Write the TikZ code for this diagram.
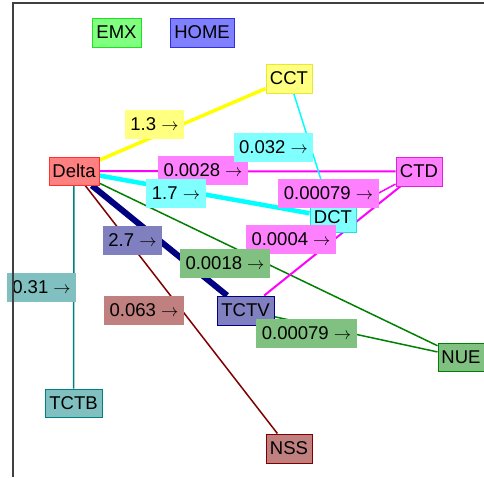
\documentclass[tikz,border=0pt]{standalone}
\usepackage{fontspec}
\setmainfont{Liberation Sans}
\usetikzlibrary{backgrounds}
\definecolor{fR}{HTML}{FF8080}\definecolor{bR}{HTML}{FF3030}
\definecolor{fY}{HTML}{FFFF80}\definecolor{bY}{HTML}{E8E830}
\definecolor{fM}{HTML}{FF80FF}\definecolor{bM}{HTML}{E020E0}
\definecolor{fC}{HTML}{80FFFF}\definecolor{bC}{HTML}{20E0E0}
\definecolor{fEM}{HTML}{80FF80}\definecolor{bEM}{HTML}{20E020}
\definecolor{fHO}{HTML}{8080FF}\definecolor{bHO}{HTML}{3030E0}
\definecolor{fN}{HTML}{8080C0}\definecolor{bN}{HTML}{000080}
\definecolor{fG}{HTML}{80C080}\definecolor{bG}{HTML}{008000}
\definecolor{fT}{HTML}{80C0C0}\definecolor{bT}{HTML}{008080}
\definecolor{fS}{HTML}{C08080}\definecolor{bS}{HTML}{800000}
\definecolor{eY}{HTML}{FFFF00}\definecolor{eM}{HTML}{FF00FF}
\definecolor{eC}{HTML}{00FFFF}\definecolor{frame}{HTML}{404040}
\begin{document}
\begin{tikzpicture}[x=1pt,y=-1pt,
  font=\fontsize{18.5}{21}\selectfont,
  nd/.style={draw, line width=1pt, inner sep=0pt, minimum height=29pt},
  lb/.style={inner sep=0pt, minimum height=29pt},
  ed/.style={line width=1.5pt}]
\useasboundingbox (0,0) rectangle (484,477);
% nodes
\node[nd, fill=fEM, draw=bEM, minimum width=49pt] (EMX) at (116.5,32.5) {EMX};
\node[nd, fill=fHO, draw=bHO, minimum width=64pt] (HOME) at (202,32.5) {HOME};
\node[nd, fill=fY, draw=bY, minimum width=46pt] (CCT) at (289,78.5) {CCT};
\node[nd, fill=fM, draw=bM, minimum width=46pt] (CTD) at (419,171.5) {CTD};
\node[nd, fill=fC, draw=bC, minimum width=46pt] (DCT) at (333,217.5) {DCT};
\node[nd, fill=fR, draw=bR, minimum width=50pt, minimum height=28pt] (Delta) at (74,171) {Delta};
\node[nd, fill=fN, draw=bN, minimum width=57pt] (TCTV) at (245.5,310.5) {TCTV};
\node[nd, fill=fG, draw=bG, minimum width=46pt, minimum height=28pt] (NUE) at (461,357) {NUE};
\node[nd, fill=fT, draw=bT, minimum width=57pt, minimum height=28pt] (TCTB) at (73.5,403) {TCTB};
\node[nd, fill=fS, draw=bS, minimum width=46pt] (NSS) at (289,448.5) {NSS};
% edges
\begin{scope}[on background layer]
\draw[ed, eY, line width=3.5pt] (Delta) -- (CCT);
\draw[ed, eM, line width=2pt] (Delta) -- (CTD);
\draw[ed, eC, line width=4.5pt] (Delta) -- (DCT);
\draw[ed, bN, line width=6pt] (Delta) -- (TCTV);
\draw[ed, bG] (Delta) -- (NUE);
\draw[ed, bS] (Delta) -- (NSS);
\draw[ed, bT] (Delta) -- (TCTB);
\draw[ed, eC] (CCT) -- (DCT);
\draw[ed, eM] (CTD) -- (DCT);
\draw[ed, eM, line width=2pt] (CTD) -- (TCTV);
\draw[ed, bG] (TCTV) -- (NUE);
\end{scope}
% edge labels
\node[lb, fill=fY, minimum width=59pt] (l1) at (154.5,124.5) {1.3 $\rightarrow$};
\node[lb, fill=fM, minimum width=90pt] (l2) at (203,170.5) {0.0028 $\rightarrow$};
\node[lb, fill=fC, minimum width=79pt] (l4) at (273.5,147.5) {0.032 $\rightarrow$};
\node[lb, fill=fC, minimum width=60pt] (l3) at (176,193.5) {1.7 $\rightarrow$};
\node[lb, fill=fM, minimum width=101pt] (l5) at (328.5,193.5) {0.00079 $\rightarrow$};
\node[lb, fill=fM, minimum width=90pt] (l6) at (291,239.5) {0.0004 $\rightarrow$};
\node[lb, fill=fN, minimum width=59pt] (l7) at (132.5,240.5) {2.7 $\rightarrow$};
\node[lb, fill=fG, minimum width=90pt] (l8) at (225,263) {0.0018 $\rightarrow$};
\node[lb, fill=fT, minimum width=69pt] (l9) at (41.5,287) {0.31 $\rightarrow$};
\node[lb, fill=fS, minimum width=80pt] (l10) at (144,310) {0.063 $\rightarrow$};
\node[lb, fill=fG, minimum width=101pt] (l11) at (306.5,333.5) {0.00079 $\rightarrow$};
% frame
\coordinate (fTR) at (484,3);
\coordinate (fTL) at (13,3);
\coordinate (fBL) at (13,477);
\draw[frame, line width=1.5pt] (fTR) -- (fTL) -- (fBL);
\end{tikzpicture}
\end{document}
